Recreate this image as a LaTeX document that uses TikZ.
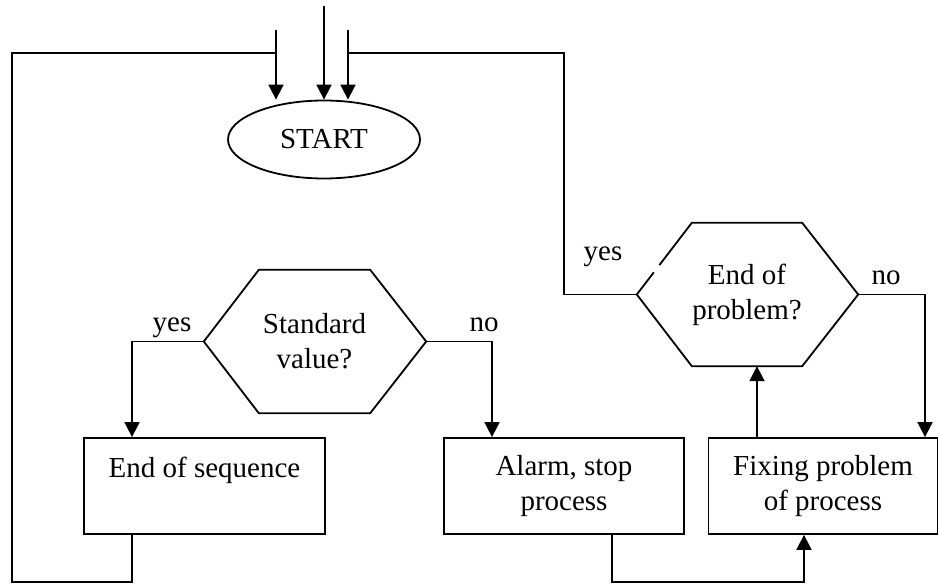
\documentclass[tikz,border=0pt]{standalone}
\usepackage{fontspec}
\setmainfont{Liberation Serif}
\usetikzlibrary{shapes.geometric,arrows.meta,calc}
\begin{document}
\begin{tikzpicture}[x=1pt,y=-1pt,
  every node/.style={font=\fontsize{29}{35}\selectfont},
  line/.style={line width=1.8pt},
  arr/.style={line, -{Triangle[length=15pt,width=15pt]}},
  procbox/.style={draw, line width=1.8pt, rectangle, inner sep=0pt, align=center,
    minimum height=96pt},
  startshape/.style={draw, line width=1.8pt, ellipse, inner sep=0pt,
    minimum width=192pt, minimum height=78pt},
  hexcore/.style={inner sep=0pt, align=center, minimum height=143pt},
  lbl/.style={anchor=base, inner sep=0pt}
]
\useasboundingbox (0,0) rectangle (939,586);

% start terminal
\node[startshape] (start) at (324,139.5) {START};

% decision: standard value?
\node[hexcore, minimum width=111pt] (std) at (314.5,341.5) {Standard\\value?};
\coordinate (stdL) at ($(std.west)+(-55,0)$);
\coordinate (stdR) at ($(std.east)+(56,0)$);
\draw[line] (std.north west) -- (std.north east) -- (stdR) -- (std.south east)
  -- (std.south west) -- (stdL) -- cycle;

% decision: end of problem? (upper left edge has a small break)
\node[hexcore, minimum width=110pt] (endp) at (747,294.5) {End of\\problem?};
\coordinate (endpL) at ($(endp.west)+(-55,0)$);
\coordinate (endpR) at ($(endp.east)+(56,0)$);
\draw[line, line join=miter] ($(endpL)!0.41!(endp.north west)$) -- (endp.north west)
  -- (endp.north east) -- (endpR) -- (endp.south east)
  -- (endp.south west) -- (endpL) -- ($(endpL)!0.31!(endp.north west)$);

% process boxes
\node[procbox, minimum width=241pt, text height=20pt, text depth=38pt] (seq) at (204.5,486) {End of sequence};
\node[procbox, minimum width=240pt] (alarm) at (564,486) {Alarm, stop\\process};
\node[procbox, minimum width=229pt] (fix) at (823,486) {Fixing problem\\of process};

% incoming lines at the top
\coordinate (inL) at (276,30);
\coordinate (inC) at (324,6);
\coordinate (inR) at (348,30);
\coordinate (jL) at (276,53);
\coordinate (jR) at (348,53);
\draw[arr] (inL) -- (inL |- start.north);
\draw[arr] (inC) -- (inC |- start.north);
\draw[arr] (inR) -- (inR |- start.north);

% return loop from end of sequence
\draw[line] ([xshift=-72.5pt]seq.south) |- (12,582) |- (jL);

% return loop from end of problem (yes)
\draw[line] (jR) -| (564,294.5) -- (endpL);

% branches of standard value?
\draw[arr] (stdL) -| ([xshift=-72.5pt]seq.north);
\draw[arr] (stdR) -| ([xshift=-72pt]alarm.north);

% alarm leads to fixing
\draw[arr] ([xshift=48pt]alarm.south) |- (804,582) -- ([xshift=-19pt]fix.south);

% fixing back to end of problem?
\draw[arr] ([xshift=-66pt]fix.north) -- ([xshift=-66pt]fix.north |- endp.south);

% end of problem? (no) back to fixing
\draw[arr] (endpR) -| ([xshift=102pt]fix.north);

% branch labels
\node[lbl] (yesA) at (172,331) {yes};
\node[lbl] (noA) at (484,331) {no};
\node[lbl] (yesB) at (603,260) {yes};
\node[lbl] (noB) at (886,284) {no};
\end{tikzpicture}
\end{document}
